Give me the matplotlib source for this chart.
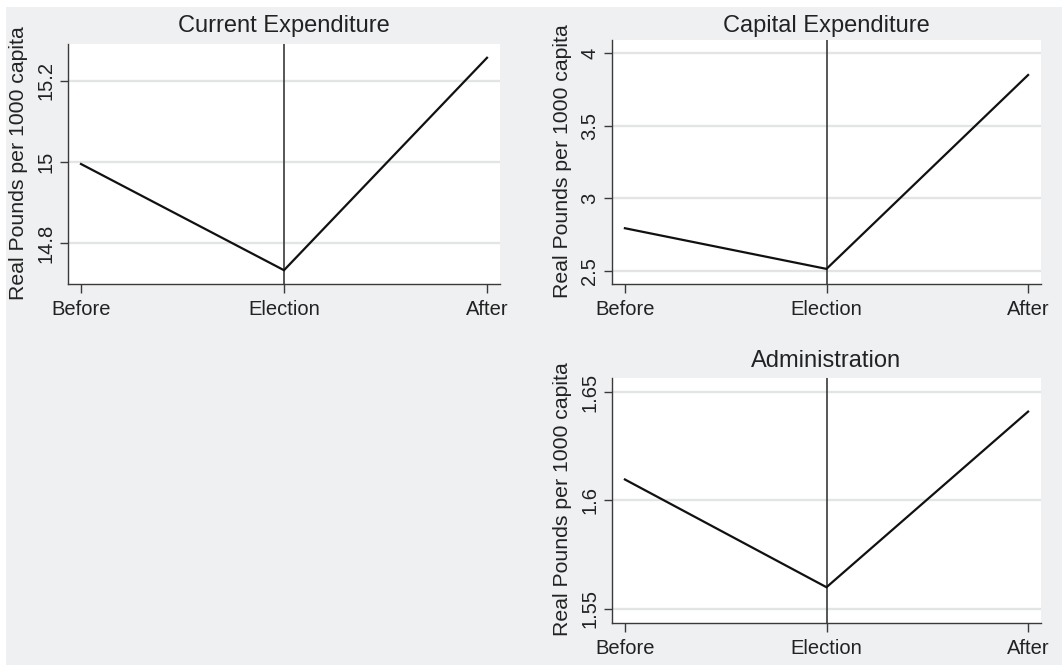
import numpy as np
import matplotlib
matplotlib.use("Agg")
import matplotlib.pyplot as plt
from matplotlib.patches import Rectangle

plt.rcParams['font.family'] = ['Liberation Sans', 'DejaVu Sans']

periods = ["Before", "Election", "After"]

current_exp = [14.995, 14.733, 15.257]
capital_exp = [2.794, 2.514, 3.849]
admin_exp = [1.6097, 1.560, 1.641]

current_ticks = [14.8, 15.0, 15.2]
current_ticklabels = ["14.8", "15", "15.2"]
capital_ticks = [2.5, 3.0, 3.5, 4.0]
capital_ticklabels = ["2.5", "3", "3.5", "4"]
admin_ticks = [1.55, 1.60, 1.65]
admin_ticklabels = ["1.55", "1.6", "1.65"]

W, H = 1062, 665
BG = "#eef0f2"
AX_COL = "#3a3a3a"

fig = plt.figure(figsize=(W / 100, H / 100), dpi=100, facecolor="white")
fig.patches.append(Rectangle((6 / W, 0), 1 - 6 / W, 1 - 7 / H,
                             transform=fig.transFigure, facecolor=BG,
                             edgecolor="none", zorder=-10))


def px_axes(left, top, right, bottom):
    return fig.add_axes([left / W, 1 - bottom / H, (right - left) / W, (bottom - top) / H])


def panel(box, title, title_y, ylab_x, values, ylim, ticks, ticklabels):
    ax = px_axes(*box)
    x = np.arange(len(periods))
    ax.set_facecolor("white")
    for t in ticks:
        ax.axhline(t, color="#e3e4e6", lw=1.7, zorder=1)
    ax.axvline(1, color=AX_COL, lw=1.2, zorder=2)
    ax.plot(x, values, color="#111111", lw=1.6, zorder=3,
            solid_joinstyle="miter")
    ax.set_xlim(-0.064, 2.064)
    ax.set_ylim(*ylim)
    ax.set_xticks(x)
    ax.set_xticklabels(periods)
    ax.set_yticks(ticks)
    ax.set_yticklabels(ticklabels, rotation=90, va="center")
    for s in ["top", "right"]:
        ax.spines[s].set_visible(False)
    for s in ["left", "bottom"]:
        ax.spines[s].set_color(AX_COL)
        ax.spines[s].set_linewidth(1.0)
    ax.tick_params(axis="x", length=6.5, width=1.0, color=AX_COL,
                   labelsize=14.5, pad=5, labelcolor="#222222")
    ax.tick_params(axis="y", length=6, width=1.0, color=AX_COL,
                   labelsize=14.5, pad=3, labelcolor="#222222")
    l, t, r, b = box
    fig.text(((l + r) / 2) / W, 1 - title_y / H, title, ha="center",
             va="baseline", fontsize=17, color="#222222")
    fig.text(ylab_x / W, 1 - ((t + b) / 2 - 1) / H, "Real Pounds per 1000 capita",
             rotation=90, ha="center", va="center", fontsize=15.3, color="#222222")
    return ax


panel((68, 44, 500, 284), "Current Expenditure", 32, 18.5,
      current_exp, (14.699, 15.291), current_ticks, current_ticklabels)
panel((612, 40, 1041, 284), "Capital Expenditure", 32, 563,
      capital_exp, (2.41, 4.09), capital_ticks, capital_ticklabels)
panel((612, 378, 1041, 623), "Administration", 367, 563,
      admin_exp, (1.5435, 1.6565), admin_ticks, admin_ticklabels)

fig.savefig("out.png", dpi=100, facecolor=fig.get_facecolor())
